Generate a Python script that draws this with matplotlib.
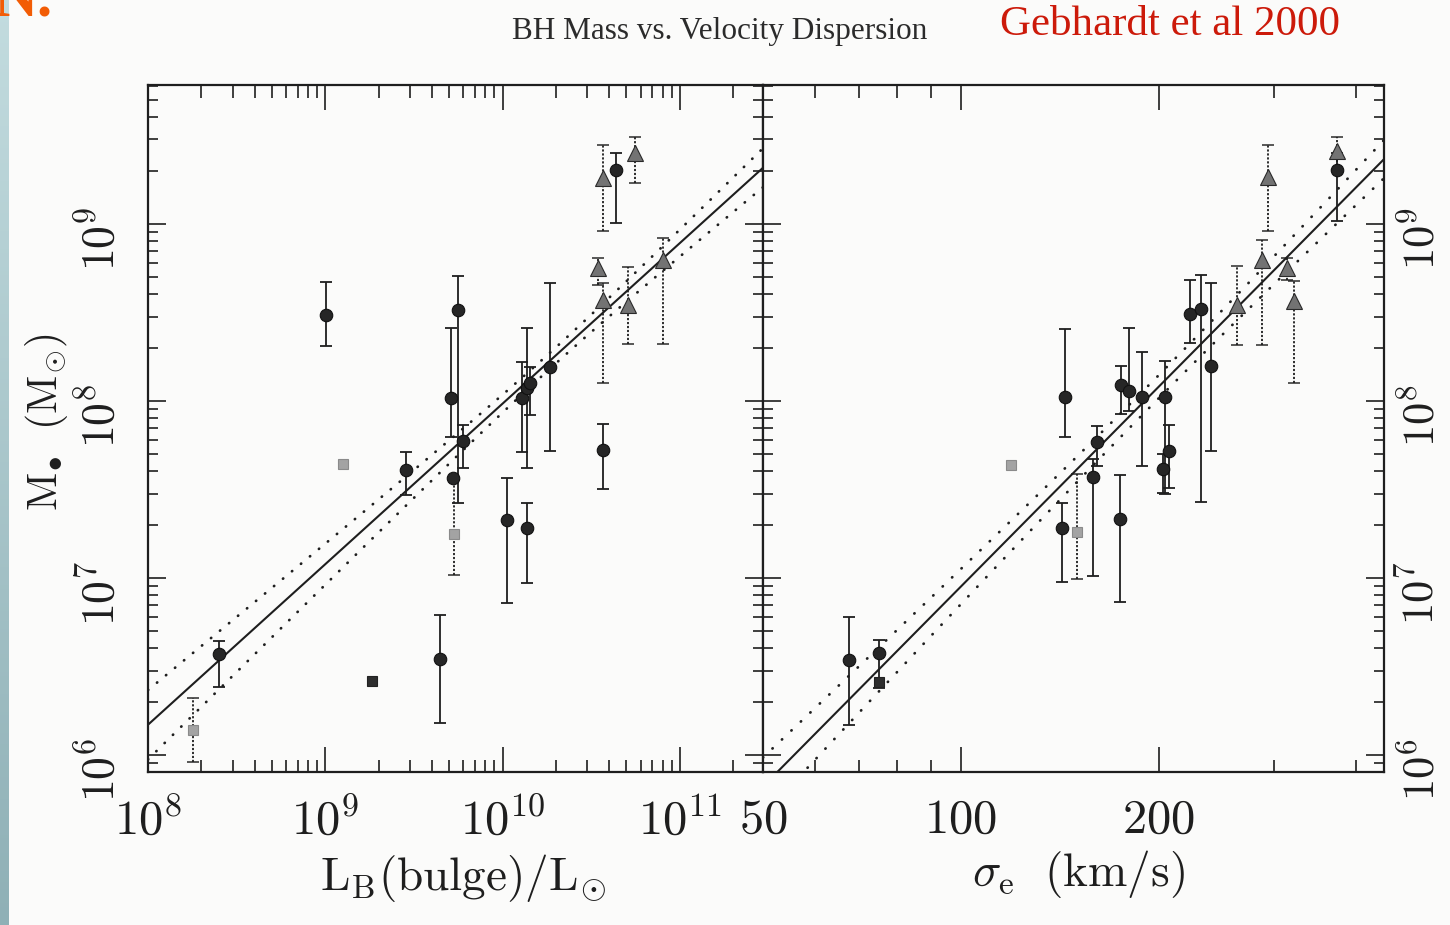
import numpy as np
import matplotlib
matplotlib.use("Agg")
import matplotlib.pyplot as plt
from matplotlib.colors import LinearSegmentedColormap
from matplotlib.ticker import FixedLocator, FuncFormatter, LogLocator, NullFormatter

plt.rcParams["mathtext.fontset"] = "cm"
plt.rcParams["font.family"] = ["Liberation Serif", "DejaVu Serif"]

INK = "#1e1e1e"
PAPER = "#fbfbfa"

# ---- data, all log10 values ----
# left panel: bulge luminosity (L_sun) vs BH mass (M_sun)
lum_circ_x  = [8.400, 9.002, 9.453, 9.709, 9.748, 9.720, 9.774, 9.647, 10.025, 10.138,
               10.109, 10.138, 10.155, 10.267, 10.566, 10.640]
lum_circ_m  = [6.571, 8.486, 7.610, 8.017, 8.514, 7.565, 7.774, 6.542, 7.328, 7.282,
               8.017, 8.073, 8.102, 8.192, 7.723, 9.305]
lum_circ_hi = [6.644, 8.672, 7.712, 8.412, 8.706, np.nan, 7.864, 6.791, 7.565, 7.424,
               8.220, 8.412, 8.192, 8.667, 7.870, 9.401]
lum_circ_lo = [6.384, 8.311, 7.469, 7.797, 7.424, np.nan, 7.621, 6.181, 6.859, 6.972,
               7.712, 7.621, 7.921, 7.718, 7.503, 9.006]

lum_tri_x  = [10.566, 10.747, 10.538, 10.566, 10.707, 10.905]
lum_tri_m  = [9.260, 9.401, 8.751, 8.571, 8.542, 8.797]
lum_tri_hi = [9.446, 9.492, 8.808, 8.667, 8.757, 8.921]
lum_tri_lo = [8.960, 9.232, 8.655, 8.102, 8.322, 8.322]

lum_sq_x  = [9.100, 9.726, 8.254]
lum_sq_m  = [7.644, 7.249, 6.141]
lum_sq_hi = [np.nan, 7.554, 6.322]
lum_sq_lo = [np.nan, 7.017, 5.960]

lum_dark_x = [9.263]
lum_dark_m = [6.418]

# right panel: velocity dispersion (km/s) vs BH mass
sig_circ_x  = [1.830, 1.876, 2.159, 2.154, 2.207, 2.201, 2.242, 2.244, 2.256, 2.276,
               2.311, 2.308, 2.317, 2.349, 2.366, 2.381, 2.572]
sig_circ_m  = [6.534, 6.579, 8.020, 7.280, 7.771, 7.568, 7.331, 8.093, 8.059, 8.020,
               8.025, 7.613, 7.720, 8.489, 8.517, 8.195, 9.302]
sig_circ_hi = [6.782, 6.647, 8.404, 7.421, 7.856, 7.675, 7.579, 8.195, 8.410, 8.274,
               8.223, 7.700, 7.867, 8.681, 8.709, 8.664, 9.400]
sig_circ_lo = [6.167, 6.376, 7.799, 6.980, 7.630, 7.014, 6.867, 7.929, 7.941, 7.630,
               7.477, 7.480, 7.506, 8.325, 7.432, 7.720, 9.014]

sig_tri_x  = [2.467, 2.572, 2.459, 2.496, 2.507, 2.421]
sig_tri_m  = [9.268, 9.410, 8.794, 8.749, 8.562, 8.540]
sig_tri_hi = [9.444, 9.494, 8.907, 8.810, 8.675, 8.760]
sig_tri_lo = [8.958, 9.302, 8.319, 8.681, 8.099, 8.319]

sig_sq_x  = [2.076, 2.177]
sig_sq_m  = [7.636, 7.257]
sig_sq_hi = [np.nan, 7.590]
sig_sq_lo = [np.nan, 6.997]

sig_dark_x = [1.876]
sig_dark_m = [6.415]

# fits: (logM at pivot, slope, pivot) and 1-sigma band (s0, s1, band centre)
lum_fit = (7.985, 0.907, 10.0)
lum_band = (0.045, 0.084, 10.27)
sig_fit = (8.08, 3.75, np.log10(200.0))
sig_band = (0.065, 0.25, 2.30)

LOGM_LIM = (5.904, 9.785)
LOGL_LIM = (8.0, 11.469)
LOGS_LIM = (np.log10(50.0), 2.644)


# ---------- helpers ----------
def _points(ax, xs, ms, hi, lo, marker, size, face, edge, dotted=False):
    for x, m, h, l in zip(xs, ms, hi, lo):
        X, M = 10**x, 10**m
        if not np.isnan(h):
            err = [[M - 10**l], [10**h - M]]
            _, caps, bars = ax.errorbar([X], [M], yerr=err, fmt="none", ecolor=INK,
                                        elinewidth=1.3, capsize=4.5, capthick=1.3, zorder=2)
            if dotted:
                bars[0].set_linestyle((0, (1.2, 1.0)))
                for c in caps:
                    c.set_alpha(0.8)
        ax.plot([X], [M], marker=marker, ms=size, mfc=face, mec=edge, mew=0.8,
                ls="none", zorder=3)


def _fit(ax, lim, fit, band, dots):
    lx = np.linspace(lim[0], lim[1], 400)
    a, b, p = fit
    y = a + b * (lx - p)
    s0, s1, c = band
    h = np.sqrt(s0**2 + (s1 * (lx - c))**2)
    ax.plot(10**lx, 10**y, color=INK, lw=1.5, zorder=1.5)
    for sgn in (1, -1):
        ax.plot(10**lx, 10**(y + sgn * h), color=INK, lw=2.0,
                ls=(0, (0.1, dots)), dash_capstyle="round", zorder=1.5)


def _decade(v, pos):
    return r"$10^{%d}$" % int(round(np.log10(v)))


def _frame(ax, xlim):
    ax.set_xscale("log"); ax.set_yscale("log")
    ax.set_xlim(10**xlim[0], 10**xlim[1])
    ax.set_ylim(10**LOGM_LIM[0], 10**LOGM_LIM[1])
    ax.set_facecolor(PAPER)
    for s in ax.spines.values():
        s.set_linewidth(1.6); s.set_color(INK)
    ax.yaxis.set_major_locator(LogLocator(base=10, numticks=20))
    ax.yaxis.set_minor_locator(LogLocator(base=10, subs=np.arange(2, 10), numticks=20))
    ax.yaxis.set_major_formatter(FuncFormatter(_decade))
    ax.yaxis.set_minor_formatter(NullFormatter())
    ax.tick_params(which="both", direction="in", top=True, bottom=True,
                   left=True, right=True, color=INK, width=1.2)
    ax.tick_params(axis="x", which="major", length=18, labelsize=35, pad=19, labelcolor=INK)
    ax.tick_params(axis="x", which="minor", length=9)
    ax.tick_params(axis="y", which="major", length=13, labelsize=33, labelcolor=INK,
                   labelrotation=90)
    ax.tick_params(axis="y", which="minor", length=7)


# ---------- figure ----------
fig = plt.figure(figsize=(14.5, 9.25), dpi=100, facecolor=PAPER)

axL = fig.add_axes([148 / 1450, 1 - 772 / 925, 615 / 1450, 687 / 925])
axR = fig.add_axes([763 / 1450, 1 - 772 / 925, 621 / 1450, 687 / 925])

_frame(axL, LOGL_LIM)
axL.xaxis.set_major_locator(LogLocator(base=10, numticks=20))
axL.xaxis.set_minor_locator(LogLocator(base=10, subs=np.arange(2, 10), numticks=20))
axL.xaxis.set_major_formatter(FuncFormatter(_decade))
axL.xaxis.set_minor_formatter(NullFormatter())
axL.tick_params(axis="y", labelleft=True, labelright=False, pad=17)

_frame(axR, LOGS_LIM)
axR.xaxis.set_major_locator(FixedLocator([50, 100, 200]))
axR.xaxis.set_minor_locator(FixedLocator([60, 70, 80, 90, 300, 400]))
axR.xaxis.set_major_formatter(FuncFormatter(lambda v, p: r"$%d$" % v))
axR.xaxis.set_minor_formatter(NullFormatter())
axR.tick_params(axis="y", labelleft=False, labelright=True, pad=12, labelsize=32)

_fit(axL, LOGL_LIM, lum_fit, lum_band, 4.1)
_fit(axR, LOGS_LIM, sig_fit, sig_band, 4.6)

for ax, data in [
    (axL, (lum_circ_x, lum_circ_m, lum_circ_hi, lum_circ_lo,
           lum_tri_x, lum_tri_m, lum_tri_hi, lum_tri_lo,
           lum_sq_x, lum_sq_m, lum_sq_hi, lum_sq_lo, lum_dark_x, lum_dark_m)),
    (axR, (sig_circ_x, sig_circ_m, sig_circ_hi, sig_circ_lo,
           sig_tri_x, sig_tri_m, sig_tri_hi, sig_tri_lo,
           sig_sq_x, sig_sq_m, sig_sq_hi, sig_sq_lo, sig_dark_x, sig_dark_m)),
]:
    cx, cm, chi, clo, tx, tm, thi, tlo, sx, sm, shi, slo, dx, dm = data
    _points(ax, cx, cm, chi, clo, "o", 9, "#262626", "#111111")
    _points(ax, tx, tm, thi, tlo, "^", 11.5, "#737373", "#2a2a2a", dotted=True)
    _points(ax, sx, sm, shi, slo, "s", 7, "#a3a3a3", "#8a8a8a", dotted=True)
    _points(ax, dx, dm, [np.nan] * len(dx), [np.nan] * len(dx), "s", 7.5, "#2e2e2e", "#222222")

# axis labels
fig.text(463 / 1450, 1 - 878 / 925, r"$\mathrm{L_B(bulge)/L_{\odot}}$",
         ha="center", va="center", fontsize=34, color=INK)
fig.text(1078 / 1450, 1 - 874 / 925, r"$\sigma_{\mathrm{e}}\ \ \mathrm{(km/s)}$",
         ha="center", va="center", fontsize=34, color=INK)
fig.text(47 / 1450, 1 - 422 / 925, r"$\mathrm{M_{\bullet}\ \ (M_{\odot})}$",
         ha="center", va="center", rotation=90, fontsize=30, color=INK)

# titles
fig.text(720 / 1450, 1 - 31 / 925, "BH Mass vs. Velocity Dispersion",
         ha="center", va="center", fontsize=22.5, color="#2b2b2b")
fig.text(1000 / 1450, 1 - 25 / 925, "Gebhardt et al 2000",
         ha="left", va="center", fontsize=31, color="#cc1a0a")

# slide remnants: left colour strip and cut-off heading
strip = fig.add_axes([0, 0, 9 / 1450, 1])
strip.imshow(np.linspace(0, 1, 256)[:, None], aspect="auto",
             cmap=LinearSegmentedColormap.from_list("s", ["#c3dcdf", "#8fb0b6"]))
strip.axis("off")
fig.text(-0.004, 1 - 15 / 925, "N.", ha="left", va="baseline", fontsize=44,
         color="#f25c05", weight="bold")

fig.savefig("out.png", dpi=100, facecolor=PAPER)
